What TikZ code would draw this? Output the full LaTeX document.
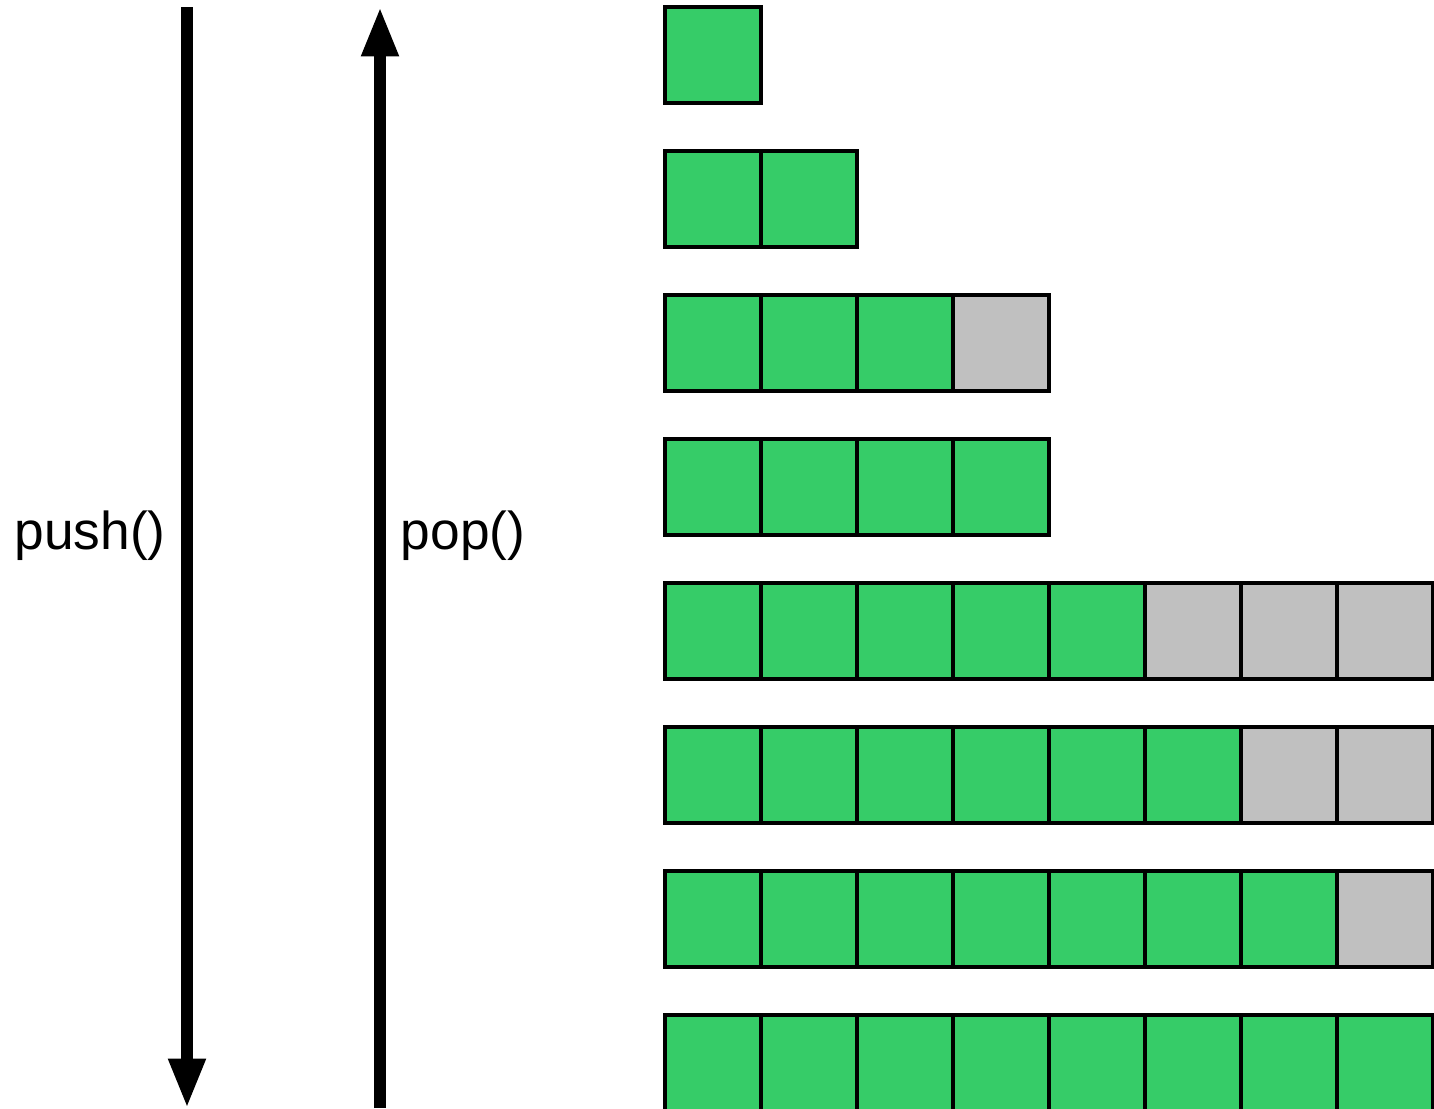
\documentclass[tikz,border=0pt]{standalone}
\usepackage{fontspec}
\setmainfont{Liberation Sans}
\usetikzlibrary{arrows.meta}
\definecolor{cellgreen}{HTML}{36CC68}
\definecolor{cellgray}{HTML}{C0C0C0}
\begin{document}
\begin{tikzpicture}[x=0.75pt,y=-0.75pt,
  cell/.style={draw=black,line width=2.5pt,minimum size=72pt,inner sep=0pt,outer sep=0pt,anchor=north west},
  used/.style={cell,fill=cellgreen},
  spare/.style={cell,fill=cellgray},
  bigarrow/.style={line width=8.6pt,-{Triangle[width=26pt,length=37pt]}},
  label/.style={font=\fontsize{40}{45}\selectfont,inner sep=0pt}]
\useasboundingbox (0,0) rectangle (1434,1108);
\clip (0,0) rectangle (1434,1108);
% operation arrows
\coordinate (pushtop) at (187,7);
\coordinate (pushbot) at (187,1108);
\coordinate (popbot) at (380,1108);
\coordinate (poptop) at (380,7);
\draw[bigarrow] (pushtop) -- (pushbot);
\draw[bigarrow] (popbot) -- (poptop);
\node[label] (pushlbl) at (90,536) {push()};
\node[label] (poplbl) at (463,536) {pop()};
% array rows: number of used and spare slots per row
\foreach \r/\g/\s in {1/1/0,2/2/0,3/3/1,4/4/0,5/5/3,6/6/2,7/7/1,8/8/0}{
  \pgfmathtruncatemacro{\tot}{\g+\s}
  \foreach \c in {1,...,\tot}{
    \pgfmathsetmacro{\xx}{665+96*(\c-1)}
    \pgfmathsetmacro{\yy}{7+144*(\r-1)}
    \ifnum\c>\g
      \node[spare] (c\r-\c) at (\xx,\yy) {};
    \else
      \node[used] (c\r-\c) at (\xx,\yy) {};
    \fi
  }
}
\end{tikzpicture}
\end{document}
